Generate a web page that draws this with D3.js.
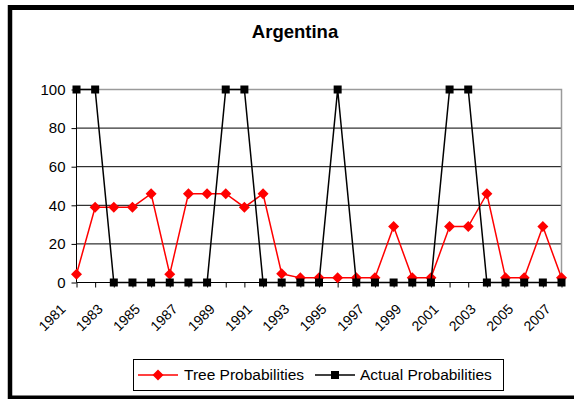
<!DOCTYPE html>
<html>
<head>
<meta charset="utf-8">
<script src="https://cdn.jsdelivr.net/npm/d3@7/dist/d3.min.js"></script>
<style>
  html, body { margin: 0; padding: 0; background: #fff; }
  svg { display: block; font-family: "Liberation Sans", Arial, sans-serif; }
</style>
</head>
<body>
<svg id="chart" width="574" height="399"></svg>
<script>
const years = [1981,1982,1983,1984,1985,1986,1987,1988,1989,1990,1991,1992,1993,1994,
               1995,1996,1997,1998,1999,2000,2001,2002,2003,2004,2005,2006,2007];
const treeProb = [4.3,39,39,39,46,4.3,46,46,46,39,46,4.5,2.4,2.4,2.4,2.4,2.4,29,2.4,2.4,29,29,46,2.4,2.4,29,2.4];
const actualProb = [100,100,0,0,0,0,0,0,100,100,0,0,0,0,100,0,0,0,0,0,100,100,0,0,0,0,0];
const yTicks = [0,20,40,60,80,100];
const xLabelYears = years.filter((y,i) => i % 2 === 0);
const seriesNames = ["Tree Probabilities", "Actual Probabilities"];

const svg = d3.select("#chart");

// outer frame
const frame = svg.append("g").attr("stroke", "#000").attr("fill", "none");
frame.append("line").attr("x1", 10).attr("x2", 10).attr("y1", 5).attr("y2", 399).attr("stroke-width", 4.5);
frame.append("line").attr("x1", 8).attr("x2", 574).attr("y1", 7.5).attr("y2", 7.5).attr("stroke-width", 5);
frame.append("line").attr("x1", 8).attr("x2", 574).attr("y1", 397.5).attr("y2", 397.5).attr("stroke-width", 4);

const L = 76.5, R = 561.5, T = 89.5, B = 282.5;
const x = d3.scalePoint().domain(years).range([L, R]);
const y = d3.scaleLinear().domain([0, 100]).range([B, T]);

// title
svg.append("text").attr("x", 295).attr("y", 38).attr("text-anchor", "middle")
  .attr("font-size", 18.5).attr("font-weight", "bold").text("Argentina");

// gridlines
svg.append("g").selectAll("line").data(yTicks.filter(d => d > 0 && d < 100)).join("line")
  .attr("x1", L).attr("x2", R).attr("y1", d => y(d)).attr("y2", d => y(d))
  .attr("stroke", "#000").attr("stroke-width", 1);

// plot border (top/right gray)
svg.append("path").attr("d", `M${L},${T}H${R}V${B}`).attr("fill", "none")
  .attr("stroke", "#9a9a9a").attr("stroke-width", 1.5);

// y axis
const yAxis = d3.axisLeft(y).tickValues(yTicks).tickSize(5).tickPadding(6);
const gy = svg.append("g").attr("transform", `translate(${L},0)`).call(yAxis);
gy.select(".domain").attr("stroke", "#000").attr("d", `M0,${T}V${B}`);
gy.selectAll(".tick line").attr("stroke", "#000");
gy.selectAll(".tick text").attr("font-size", 15).attr("fill", "#000")
  .attr("font-family", "'Liberation Sans', Arial, sans-serif");

// x axis
const xAxis = d3.axisBottom(x).tickSize(5).tickFormat(d => xLabelYears.includes(d) ? d : "");
const gx = svg.append("g").attr("transform", `translate(0,${B})`).call(xAxis);
gx.select(".domain").attr("stroke", "#000").attr("d", `M${L},0H${R}`);
gx.selectAll(".tick line").attr("stroke", "#000");
gx.selectAll(".tick text")
  .attr("font-size", 14).attr("fill", "#000")
  .attr("font-family", "'Liberation Sans', Arial, sans-serif")
  .attr("text-anchor", "end")
  .attr("dy", "0.35em")
  .attr("transform", "translate(-14,24) rotate(-45)")
  .attr("y", 0);

// series
const lineGen = d3.line().x((d,i) => x(years[i])).y(d => y(d));

const gTree = svg.append("g");
gTree.append("path").datum(treeProb).attr("d", lineGen).attr("fill", "none")
  .attr("stroke", "#ff0000").attr("stroke-width", 1.5);
gTree.selectAll("path.m").data(treeProb).join("path").attr("class", "m")
  .attr("d", "M0,-5.5L5.5,0L0,5.5L-5.5,0Z")
  .attr("transform", (d,i) => `translate(${x(years[i])},${y(d)})`)
  .attr("fill", "#ff0000");

const gAct = svg.append("g");
gAct.append("path").datum(actualProb).attr("d", lineGen).attr("fill", "none")
  .attr("stroke", "#000").attr("stroke-width", 1.5);
gAct.selectAll("rect").data(actualProb).join("rect")
  .attr("x", (d,i) => x(years[i]) - 4).attr("y", d => y(d) - 4)
  .attr("width", 8).attr("height", 8).attr("fill", "#000");

// legend
const lg = svg.append("g");
lg.append("rect").attr("x", 133.5).attr("y", 359.5).attr("width", 370).attr("height", 31)
  .attr("fill", "#fff").attr("stroke", "#000").attr("stroke-width", 1);
const ly = 375;
lg.append("line").attr("x1", 138).attr("x2", 178).attr("y1", ly).attr("y2", ly)
  .attr("stroke", "#ff0000").attr("stroke-width", 1.5);
lg.append("path").attr("d", "M0,-5.5L5.5,0L0,5.5L-5.5,0Z").attr("transform", `translate(158,${ly})`).attr("fill", "#ff0000");
lg.append("text").attr("x", 184).attr("y", ly).attr("dy", "0.35em").attr("font-size", 15.5).text(seriesNames[0]);
lg.append("line").attr("x1", 315).attr("x2", 355).attr("y1", ly).attr("y2", ly)
  .attr("stroke", "#000").attr("stroke-width", 1.5);
lg.append("rect").attr("x", 331).attr("y", ly - 4).attr("width", 8).attr("height", 8).attr("fill", "#000");
lg.append("text").attr("x", 360).attr("y", ly).attr("dy", "0.35em").attr("font-size", 15.5).text(seriesNames[1]);
</script>
</body>
</html>
